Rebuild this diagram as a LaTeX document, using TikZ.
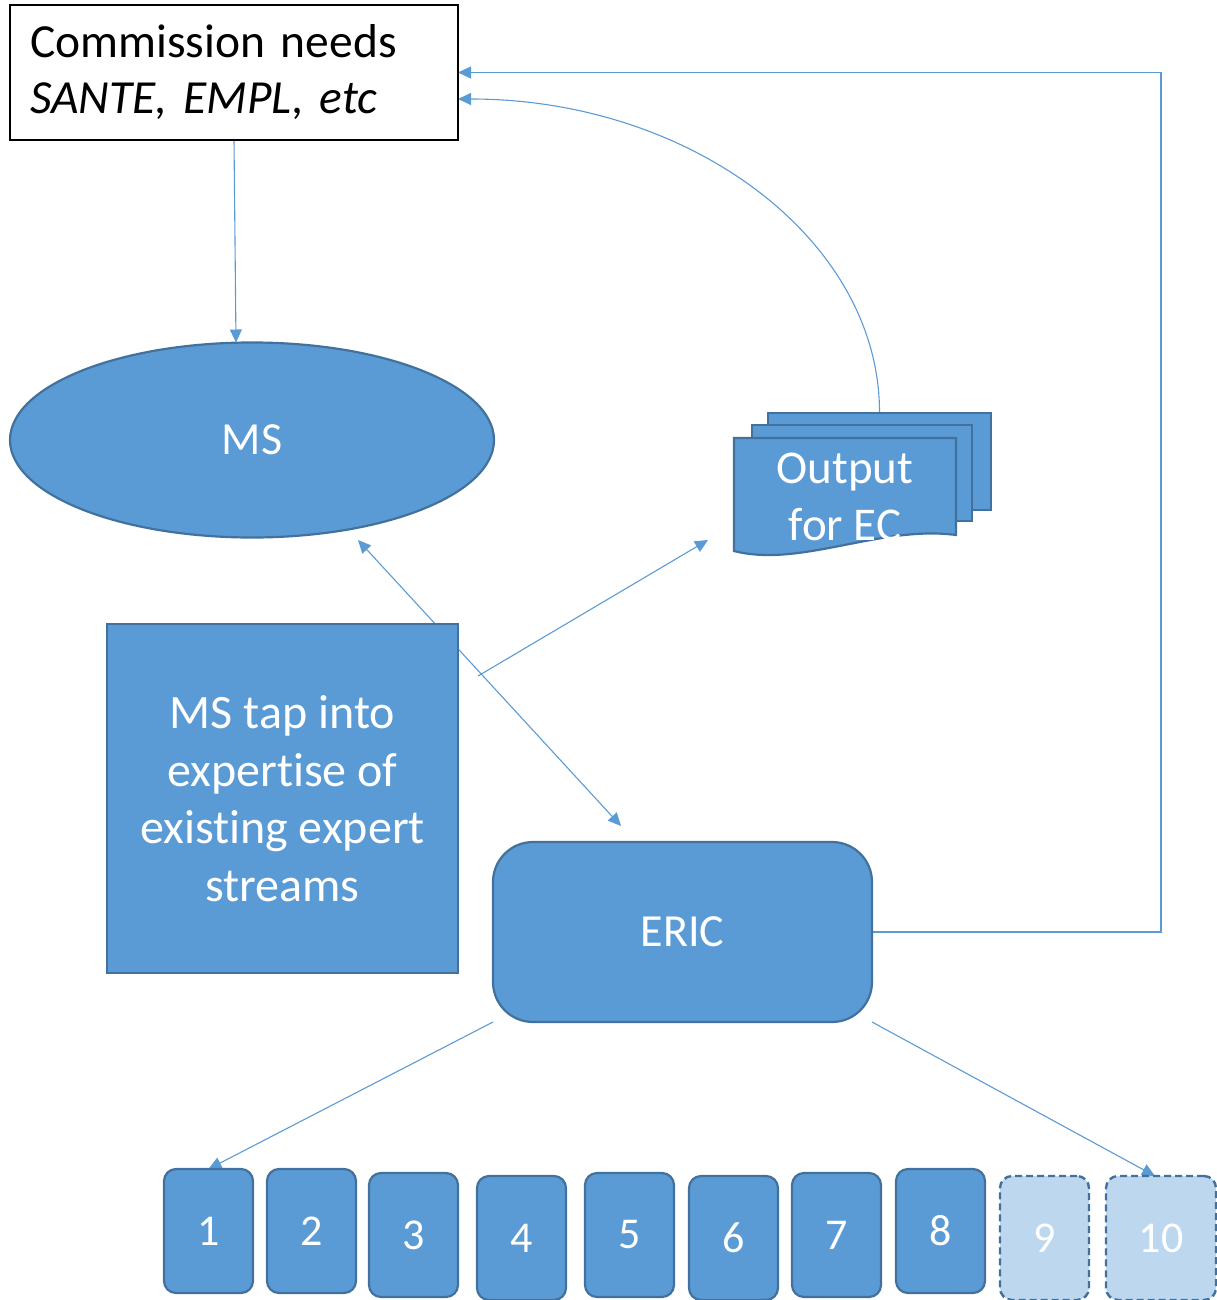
\documentclass[tikz,border=0pt]{standalone}
\usepackage{fontspec}
\setmainfont[Ligatures=NoCommon]{Carlito}
\usetikzlibrary{arrows.meta,backgrounds,calc,shapes.geometric}
\definecolor{bfill}{HTML}{5B9BD5}
\definecolor{bline}{HTML}{41719C}
\definecolor{lfill}{HTML}{BDD7EE}
\begin{document}
\begin{tikzpicture}[x=1pt,y=-1pt,
 conn/.style={draw=bfill, line width=1.1pt},
 arr/.style={conn, -{Triangle[length=13pt,width=12pt]}},
 darr/.style={conn, {Triangle[length=13pt,width=12pt]}-{Triangle[length=13pt,width=12pt]}},
 shp/.style={fill=bfill, draw=bline, line width=2.2pt, text=white, font=\fontsize{46}{57}\selectfont, align=center, inner sep=0pt, outer sep=0pt},
 numbox/.style={shp, rounded corners=12pt, minimum width=89pt, minimum height=124pt, font=\fontsize{44}{50}\selectfont},
 ghostbox/.style={numbox, fill=lfill, line width=2.4pt, dash pattern=on 7pt off 4pt}
]
\useasboundingbox (0,0) rectangle (1217,1300);

\node[draw=black, line width=1.5pt, fill=white, minimum width=448pt, minimum height=135pt, inner sep=0pt, outer sep=0pt, text width=408pt, align=left, font=\fontsize{47.5}{56}\selectfont] (comm) at (234,72.5) {Commission needs\\\textit{SANTE, EMPL, etc}};

\node[shp, ellipse, minimum width=484pt, minimum height=195pt] (ms) at (252,440) {MS};

\node[shp, minimum width=351pt, minimum height=349pt, font=\fontsize{48}{57.5}\selectfont] (exp) at (282.5,798.5) {MS tap into\\expertise of\\existing expert\\streams};

\node[shp, rounded corners=40pt, minimum width=379pt, minimum height=180pt] (eric) at (682.5,932) {ERIC};

% Output for EC (multi-document)
\node[shp, minimum width=223pt, minimum height=97pt] (outback) at (879.5,461.5) {};
\node[shp, minimum width=220pt, minimum height=96pt] (outmid) at (862,473) {};
\path[shp] (734,438) -- (956,438) -- (956,535) .. controls (880,525) and (800,568) .. (734,551) -- cycle;
\node[text=white, font=\fontsize{47}{57}\selectfont, align=center, inner sep=0pt] (outtxt) at (845,497) {Output\\for EC};

% numbered boxes
\node[numbox] (n1) at (208.5,1231) {\raisebox{-2pt}{1}};
\node[numbox] (n2) at (311.5,1231) {\raisebox{-2pt}{2}};
\node[numbox] (n3) at (413.5,1235) {\raisebox{-2pt}{3}};
\node[numbox] (n4) at (521.5,1238) {\raisebox{-2pt}{4}};
\node[numbox] (n5) at (629.5,1235) {\raisebox{-2pt}{5}};
\node[numbox] (n6) at (733.5,1238) {\raisebox{-2pt}{6}};
\node[numbox] (n7) at (836.5,1235) {\raisebox{-2pt}{7}};
\node[numbox] (n8) at (940.5,1231) {\raisebox{-2pt}{8}};
\node[ghostbox] (n9) at (1044.5,1238) {\raisebox{-2pt}{9}};
\node[ghostbox, minimum width=110pt] (n10) at (1161,1238) {\raisebox{-2pt}{10}};

\coordinate (d1) at (358,540);
\coordinate (d2) at (621,826);
\coordinate (e1) at (478,676);
\coordinate (e2) at (708,540);
\coordinate (rc) at (1161,0);

\begin{scope}[on background layer]
\draw[arr] (comm.south) -- ($(ms.north)+(-16,0)$);
\draw[darr] (d1) -- (d2);
\draw[arr] (e1) -- (e2);
\draw[arr] (outback.north) .. controls (880,240) and (691,99) .. ($(comm.south east)+(0,-41)$);
\draw[arr] (eric.east) -| (rc |- comm.east) -- (comm.east);
\draw[arr] (eric.south west) -- (n1.north);
\draw[arr] (eric.south east) -- ($(n10.north)+(-6,0)$);
\end{scope}
\end{tikzpicture}
\end{document}
